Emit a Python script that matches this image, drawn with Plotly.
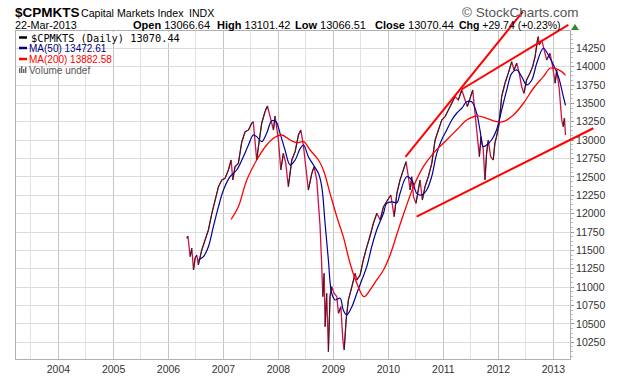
import plotly.graph_objects as go
import pandas as pd

# ---------------- data ----------------
price_dates = [
    "2006-05-03","2006-05-10","2006-05-25","2006-06-05","2006-06-16","2006-06-27","2006-07-08","2006-07-18",
    "2006-07-30","2006-08-10","2006-09-01","2006-09-23","2006-10-16","2006-11-07","2006-11-29","2006-12-21",
    "2007-01-12","2007-02-03","2007-02-21","2007-03-04","2007-03-19","2007-04-10","2007-05-03","2007-05-25",
    "2007-06-16","2007-07-08","2007-07-18","2007-08-10","2007-08-21","2007-09-12","2007-10-04","2007-10-20",
    "2007-11-07","2007-11-29","2007-12-10","2008-01-01","2008-01-17","2008-02-03","2008-02-19","2008-03-07",
    "2008-03-30","2008-04-21","2008-05-13","2008-05-29","2008-06-16","2008-07-03","2008-07-18","2008-08-10",
    "2008-08-25","2008-09-12","2008-09-23","2008-10-04","2008-10-15","2008-10-22","2008-10-31","2008-11-06",
    "2008-11-17","2008-11-28","2008-12-09","2008-12-20","2009-01-05","2009-01-23","2009-02-03","2009-02-19",
    "2009-03-04","2009-03-13","2009-03-26","2009-04-10","2009-05-03","2009-05-25","2009-06-05","2009-06-27",
    "2009-07-18","2009-08-10","2009-09-01","2009-09-23","2009-10-16","2009-11-07","2009-11-29","2009-12-26",
    "2010-01-17","2010-02-08","2010-02-26","2010-03-19","2010-04-10","2010-04-28","2010-05-13","2010-05-25",
    "2010-06-05","2010-06-16","2010-07-03","2010-07-18","2010-07-30","2010-08-14","2010-09-01","2010-09-23",
    "2010-10-16","2010-11-07","2010-11-29","2010-12-21","2011-01-12","2011-02-03","2011-02-26","2011-03-19",
    "2011-04-10","2011-05-03","2011-05-25","2011-06-09","2011-07-01","2011-07-15","2011-07-30","2011-08-14",
    "2011-08-28","2011-09-08","2011-09-23","2011-10-04","2011-10-15","2011-10-26","2011-11-11","2011-11-28",
    "2011-12-09","2011-12-20","2012-01-05","2012-01-23","2012-02-14","2012-03-07","2012-03-30","2012-04-14",
    "2012-05-02","2012-05-19","2012-06-04","2012-06-19","2012-07-07","2012-07-29","2012-08-16","2012-09-01",
    "2012-09-16","2012-09-22","2012-09-29","2012-10-15","2012-10-31","2012-11-17","2012-12-09","2012-12-27",
    "2013-01-12","2013-01-23","2013-02-09","2013-02-25","2013-03-07","2013-03-15","2013-03-22",
]
price_values = [
    11665,11696,11415,11530,11234,11397,11438,11302,
    11410,11506,11642,11778,12005,12186,12367,12458,
    12481,12594,12730,12458,12639,12685,12979,13115,
    13138,13230,13251,12730,12911,13230,13387,13465,
    13319,13138,13329,13002,12594,12821,12685,12367,
    12730,12843,13070,13138,12911,12639,12322,12549,
    12639,12458,12186,11823,11279,10871,11189,10462,
    10917,10122,10871,11007,10917,10871,10645,10735,
    10282,10146,10554,10826,11007,11189,11098,11166,
    11370,11551,11687,11869,12005,11914,12095,12186,
    12254,11959,12277,12458,12594,12707,12503,12322,
    12503,12231,12141,12322,12458,12186,12367,12503,
    12685,13002,13138,13274,13319,13410,13502,13592,
    13547,13683,13547,13456,13592,13683,13366,13002,
    12775,13048,12866,12458,12821,13002,12775,12730,
    12957,13048,13206,13592,13774,13910,14068,13955,
    14046,13910,13727,13638,13819,13910,14000,14136,
    14363,14410,14295,14363,14227,14091,14182,14000,
    13774,13955,13683,13274,13183,13300,13070,
]

ma50_dates = [
    "2006-07-18","2006-08-21","2006-09-23","2006-10-26","2006-11-29","2007-01-01","2007-02-14","2007-03-30",
    "2007-05-13","2007-06-16","2007-07-18","2007-08-10","2007-09-12","2007-10-15","2007-11-18","2007-12-16",
    "2008-01-12","2008-02-14","2008-03-19","2008-04-21","2008-05-25","2008-06-16","2008-07-18","2008-08-21",
    "2008-09-23","2008-10-15","2008-11-06","2008-11-28","2008-12-20","2009-01-12","2009-02-14","2009-03-07",
    "2009-03-30","2009-05-03","2009-06-05","2009-07-08","2009-08-10","2009-09-12","2009-10-15","2009-11-29",
    "2009-12-20","2010-01-25","2010-02-26","2010-03-19","2010-05-02","2010-06-05","2010-07-08","2010-08-10",
    "2010-09-12","2010-10-15","2010-11-18","2010-12-20","2011-01-23","2011-02-26","2011-03-30","2011-05-03",
    "2011-06-05","2011-07-08","2011-08-10","2011-09-01","2011-09-23","2011-10-15","2011-11-17","2011-12-20",
    "2012-01-23","2012-02-26","2012-03-30","2012-05-02","2012-06-04","2012-07-07","2012-08-10","2012-09-12",
    "2012-10-26","2012-11-28","2013-01-01","2013-02-03","2013-03-07","2013-03-22",
]
ma50_values = [
    11370,11415,11551,11823,12095,12322,12503,12594,
    12775,12934,13070,13048,12979,13093,13265,13251,
    13093,12866,12662,12730,12889,12934,12775,12662,
    12549,12367,11869,11370,10917,10826,10849,10690,
    10622,10735,10917,11098,11279,11551,11778,12005,
    12140,12160,12150,12277,12503,12458,12277,12254,
    12322,12503,12821,13002,13138,13274,13366,13434,
    13523,13523,13366,13138,12911,12934,13002,13138,
    13410,13683,13910,13955,13864,13751,13819,14046,
    14250,14159,14023,13864,13600,13472,
]

ma200_dates = [
    "2007-02-21","2007-04-10","2007-06-05","2007-08-10","2007-10-15","2007-12-09","2008-01-23","2008-03-19",
    "2008-05-03","2008-06-16","2008-07-30","2008-09-23","2008-10-26","2008-12-09","2009-01-23","2009-03-07",
    "2009-04-21","2009-06-05","2009-07-23","2009-09-01","2009-10-15","2009-11-29","2010-01-12","2010-03-07",
    "2010-04-21","2010-06-16","2010-08-21","2010-10-26","2011-01-23","2011-03-30","2011-06-05","2011-08-10",
    "2011-10-15","2011-12-20","2012-02-03","2012-04-10","2012-06-16","2012-08-21","2012-10-26","2012-12-09",
    "2013-01-12","2013-02-25","2013-03-22",
]
ma200_values = [
    11923,12095,12458,12730,12934,13039,13070,13002,
    12966,12979,12866,12730,12594,12277,11959,11687,
    11325,11053,10871,10962,11098,11234,11438,11778,
    12050,12367,12639,12821,13002,13138,13274,13329,
    13298,13251,13251,13342,13502,13706,13864,13978,
    13978,13932,13882,
]

# user-drawn trend lines (start date, start value, end date, end value)
trend_start_dates = ["2010-07-07", "2010-04-24", "2011-05-01"]
trend_start_values = [11959, 12771, 13689]
trend_end_dates = ["2013-09-23", "2012-06-12", "2013-04-10"]
trend_end_values = [13162, 14748, 14567]

y_ticks = [10250, 10500, 10750, 11000, 11250, 11500, 11750, 12000, 12250,
           12500, 12750, 13000, 13250, 13500, 13750, 14000, 14250]
x_tick_years = [2004, 2005, 2006, 2007, 2008, 2009, 2010, 2011, 2012, 2013]

quote_labels = ["Open", "High", "Low", "Close", "Chg"]
quote_values = ["13066.64", "13101.42", "13066.51", "13070.44", "+29.74 (+0.23%)"]

# ---------------- layout geometry ----------------
W, H = 620, 376
L, R, T, B = 16, 570, 31, 359
X0, X1 = pd.Timestamp("2003-03-25"), pd.Timestamp("2013-04-21")
Y0, Y1 = 10023, 14485
SANS = "Liberation Sans, Arial, sans-serif"

def fx(px):
    return (px - L) / (R - L)

def fy(py):
    return (B - py) / (B - T)

def dx(d):
    return (pd.Timestamp(d) - X0) / (X1 - X0)

def dy(v):
    return (v - Y0) / (Y1 - Y0)

fig = go.Figure()

# price: crimson base line with black segments on up-moves
fig.add_trace(go.Scatter(x=price_dates, y=price_values, mode="lines",
                         line=dict(color="#CC1144", width=1.3), hoverinfo="skip"))
up_x, up_y = [], []
for i in range(1, len(price_values)):
    if price_values[i] > price_values[i - 1]:
        up_x += [price_dates[i - 1], price_dates[i], None]
        up_y += [price_values[i - 1], price_values[i], None]
fig.add_trace(go.Scatter(x=up_x, y=up_y, mode="lines",
                         line=dict(color="#222222", width=1.0), hoverinfo="skip"))
fig.add_trace(go.Scatter(x=ma50_dates, y=ma50_values, mode="lines", line_shape="spline",
                         line=dict(color="#000099", width=1.2), hoverinfo="skip"))
fig.add_trace(go.Scatter(x=ma200_dates, y=ma200_values, mode="lines", line_shape="spline",
                         line=dict(color="#FF0000", width=1.3), hoverinfo="skip"))

shapes = []
for sd, sv, ed, ev in zip(trend_start_dates, trend_start_values, trend_end_dates, trend_end_values):
    shapes.append(dict(type="line", xref="paper", yref="paper",
                       x0=dx(sd), y0=dy(sv), x1=dx(ed), y1=dy(ev),
                       line=dict(color="#FF0000", width=2)))

# green up triangle next to change
shapes.append(dict(type="path", xref="paper", yref="paper",
                   path=f"M {fx(571)},{fy(30)} L {fx(579)},{fy(30)} L {fx(575)},{fy(24)} Z",
                   fillcolor="#2E8B2E", line=dict(width=0)))

# legend swatches
shapes.append(dict(type="rect", xref="paper", yref="paper", x0=fx(17), x1=fx(183), y0=fy(43), y1=fy(32),
                   fillcolor="white", line=dict(width=0), layer="above"))
for yy, col in [(37.5, "#000000"), (48, "#000080"), (59, "#FF0000")]:
    shapes.append(dict(type="line", xref="paper", yref="paper", x0=fx(19), x1=fx(27), y0=fy(yy), y1=fy(yy),
                       line=dict(color=col, width=2.5)))
for bx0, bh in [(19, 5), (21, 7), (23, 4), (25, 6)]:
    shapes.append(dict(type="rect", xref="paper", yref="paper", x0=fx(bx0), x1=fx(bx0 + 1.4),
                       y0=fy(73), y1=fy(73 - bh), fillcolor="#666666", line=dict(width=0)))

ann = []
def text(px, py, s, size=12, color="#000", family=SANS, anchor="left"):
    ann.append(dict(xref="paper", yref="paper", x=fx(px), y=fy(py), text=s, showarrow=False,
                    xanchor=anchor, yanchor="middle",
                    font=dict(size=size, color=color, family=family),
                    borderpad=0, borderwidth=0))

text(15, 12, "<b>$CPMKTS</b>", size=13.5)
text(81, 13, "Capital Markets Index", size=10.6)
text(189, 13, "INDX", size=10.6)
text(578, 13, "© StockCharts.com", size=13.5, color="#555", anchor="right")
text(15, 25.5, "22-Mar-2013", size=10.8)
for qx, ql, qv, qs in zip([133, 217, 295, 375, 459], quote_labels, quote_values,
                          [11, 11, 11, 11, 10.5]):
    text(qx, 25.5, f"<b>{ql}</b> {qv}", size=qs)
text(31, 38, "$CPMKTS (Daily) 13070.44", size=10.3, family="DejaVu Sans Mono, monospace")
text(29, 48.5, "MA(50) 13472.61", size=10, color="#000080")
text(29, 59.5, "MA(200) 13882.58", size=10, color="#FF0000")
text(29, 70, "Volume undef", size=10, color="#555")

fig.update_layout(
    width=W, height=H,
    margin=dict(l=L, r=W - R, t=T, b=H - B, autoexpand=False),
    paper_bgcolor="white", plot_bgcolor="white",
    showlegend=False,
    shapes=shapes, annotations=ann,
    xaxis=dict(
        type="date", range=[X0, X1],
        tickvals=[f"{y}-01-01" for y in x_tick_years],
        ticktext=[str(y) for y in x_tick_years],
        tickfont=dict(size=10.5, color="#333", family=SANS),
        ticks="", showgrid=True, gridcolor="#c4c4c4", gridwidth=1,
        minor=dict(tickvals=[f"{y}-07-01" for y in range(2003, 2014)], showgrid=True,
                   gridcolor="#e2e2e2", gridwidth=1),
        showline=True, linecolor="#b0b0b0", linewidth=1, mirror=True, zeroline=False,
    ),
    yaxis=dict(
        range=[Y0, Y1], side="right", tickvals=y_ticks,
        ticktext=[str(v) for v in y_ticks],
        tickfont=dict(size=10.5, color="#333", family=SANS),
        ticks="outside", ticklen=3, tickcolor="#999",
        showgrid=True, gridcolor="#dcdcdc", gridwidth=1,
        minor=dict(ticks="outside", ticklen=2, dtick=62.5, tickcolor="#bbb", showgrid=False),
        showline=True, linecolor="#b0b0b0", linewidth=1, mirror=True, zeroline=False,
    ),
)

fig.write_html("out.html", config={"displayModeBar": False},
               post_script="document.body.style.margin='0';document.body.style.overflow='hidden';")
